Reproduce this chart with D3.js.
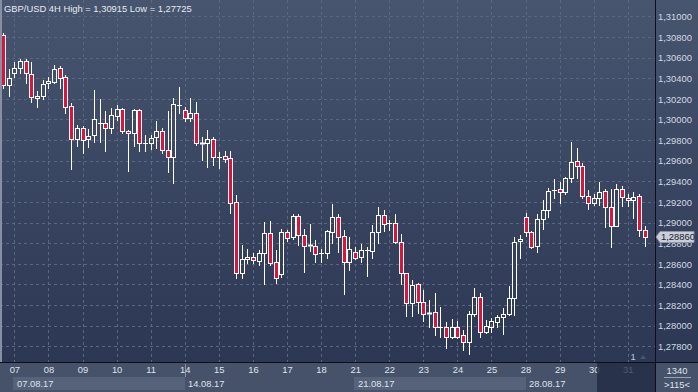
<!DOCTYPE html>
<html>
<head>
<meta charset="utf-8">
<script src="https://cdnjs.cloudflare.com/ajax/libs/d3/7.8.5/d3.min.js"></script>
<style>
  html, body { margin: 0; padding: 0; background: #2b3754; }
  svg { display: block; }
  text { font-family: "Liberation Sans", Arial, sans-serif; }
</style>
</head>
<body>
<div id="chart"></div>
<script>
var opens = [1.30819,1.30334,1.30447,1.30496,1.30567,1.30440,1.30205,1.30227,1.30350,1.30366,
  1.30496,1.30414,1.30130,1.29807,1.29914,1.29807,1.29849,1.29962,1.29962,1.29914,
  1.30033,1.30098,1.29891,1.29865,1.30091,1.29768,1.29768,1.29827,1.29888,1.29704,
  1.29639,1.30137,1.30091,1.30011,1.30059,1.29768,1.29768,1.29807,1.29633,1.29645,
  1.29623,1.29196,1.28508,1.28644,1.28669,1.28630,1.28708,1.28896,1.28615,1.28498,
  1.28905,1.28857,1.29064,1.28879,1.28776,1.28773,1.28702,1.28708,1.28911,1.29057,
  1.28870,1.28620,1.28712,1.28669,1.28734,1.28727,1.28911,1.29073,1.28993,1.28993,
  1.28814,1.28508,1.28217,1.28401,1.28233,1.28120,1.28136,1.27984,1.27984,1.27887,
  1.27984,1.27910,1.27845,1.28110,1.28275,1.27942,1.27990,1.28038,1.28081,1.28110,
  1.28265,1.28821,1.29051,1.28911,1.28776,1.29032,1.29122,1.29316,1.29322,1.29299,
  1.29429,1.29597,1.29548,1.29260,1.29187,1.29241,1.29306,1.29148,1.28969,1.29322,
  1.29241,1.29219,1.29257,1.28928]
var highs = [1.30838,1.30489,1.30560,1.30583,1.30583,1.30560,1.30276,1.30382,1.30414,1.30528,
  1.30518,1.30431,1.30156,1.29946,1.29936,1.29904,1.30285,1.30195,1.30085,1.30108,
  1.30140,1.30108,1.29897,1.30098,1.30098,1.29849,1.29849,1.29988,1.29914,1.30085,
  1.30205,1.30312,1.30121,1.30205,1.30166,1.29827,1.29897,1.29832,1.29687,1.29694,
  1.29694,1.29267,1.28782,1.28741,1.28702,1.28734,1.29002,1.29015,1.28734,1.28935,
  1.28928,1.29083,1.29083,1.28935,1.28986,1.28831,1.28744,1.28928,1.29180,1.29083,
  1.28928,1.28863,1.28760,1.28789,1.28760,1.28976,1.29148,1.29122,1.29025,1.29083,
  1.28889,1.28510,1.28443,1.28411,1.28346,1.28249,1.28314,1.28178,1.28033,1.28062,
  1.28048,1.27958,1.28145,1.28362,1.28314,1.28055,1.28077,1.28103,1.28168,1.28385,
  1.28857,1.28876,1.29090,1.28918,1.29083,1.29219,1.29338,1.29419,1.29396,1.29445,
  1.29778,1.29720,1.29577,1.29316,1.29274,1.29390,1.29325,1.29322,1.29374,1.29354,
  1.29274,1.29293,1.29277,1.28966]
var lows = [1.30305,1.30227,1.30409,1.30447,1.30350,1.30172,1.30123,1.30198,1.30302,1.30350,
  1.30302,1.30065,1.29516,1.29742,1.29677,1.29736,1.29784,1.29784,1.29697,1.29865,
  1.29994,1.29865,1.29503,1.29742,1.29697,1.29697,1.29710,1.29720,1.29672,1.29493,
  1.29381,1.30059,1.29988,1.29988,1.29752,1.29607,1.29542,1.29558,1.29526,1.29590,
  1.29090,1.28459,1.28459,1.28605,1.28605,1.28588,1.28404,1.28588,1.28417,1.28475,
  1.28824,1.28840,1.28782,1.28523,1.28727,1.28620,1.28620,1.28653,1.28799,1.28717,
  1.28304,1.28540,1.28644,1.28620,1.28482,1.28653,1.28799,1.28921,1.28928,1.28805,
  1.28404,1.28094,1.28094,1.28126,1.28048,1.27990,1.27910,1.27893,1.27781,1.27878,
  1.27878,1.27764,1.27725,1.28094,1.27893,1.27926,1.27942,1.27990,1.27919,1.28108,
  1.28108,1.28659,1.28870,1.28756,1.28717,1.28935,1.29057,1.29241,1.29193,1.29277,
  1.29396,1.29429,1.29241,1.29131,1.29170,1.29170,1.28954,1.28766,1.28967,1.29160,
  1.29164,1.29047,1.28870,1.28773]
var closes = [1.30334,1.30399,1.30496,1.30567,1.30447,1.30215,1.30227,1.30344,1.30373,1.30486,
  1.30399,1.30123,1.29807,1.29914,1.29801,1.29839,1.30001,1.29965,1.29914,1.30043,
  1.30098,1.29891,1.29865,1.30091,1.29768,1.29770,1.29817,1.29888,1.29704,1.29639,
  1.30147,1.30140,1.30011,1.30059,1.29768,1.29766,1.29807,1.29633,1.29635,1.29619,
  1.29193,1.28508,1.28644,1.28669,1.28637,1.28708,1.28896,1.28611,1.28459,1.28905,
  1.28847,1.29064,1.28879,1.28776,1.28778,1.28692,1.28704,1.28918,1.29057,1.28863,
  1.28620,1.28741,1.28659,1.28734,1.28736,1.28911,1.29073,1.28986,1.28991,1.28814,
  1.28508,1.28217,1.28394,1.28233,1.28110,1.28118,1.27984,1.27986,1.27887,1.27984,
  1.27887,1.27845,1.28110,1.28275,1.27942,1.27997,1.28045,1.28081,1.28110,1.28265,
  1.28808,1.28838,1.28911,1.28766,1.29032,1.29122,1.29309,1.29318,1.29299,1.29429,
  1.29584,1.29548,1.29260,1.29187,1.29241,1.29293,1.29148,1.28969,1.29322,1.29251,
  1.29219,1.29251,1.28928,1.28860]

var days = ["07","08","09","10","11","14","15","16","17","18","21","22","23","24","25","28","29","30","31"]
var weeks = ["07.08.17","14.08.17","21.08.17","28.08.17"]
var yTicks = [1.278,1.280,1.282,1.284,1.286,1.288,1.290,1.292,1.294,1.296,1.298,1.300,1.302,1.304,1.306,1.308,1.310]
var title = "GBP/USD 4H High = 1,30915 Low = 1,27725"
var lastPrice = 1.28860
var barsPerDay = 6, firstDayBar = 2

var W = 698, H = 392, plotW = 655, plotH = 362
var fmt = v => d3.format(".5f")(v).replace(".", ",")

var svg = d3.select("#chart").append("svg").attr("width", W).attr("height", H)
var defs = svg.append("defs")
var grad = defs.append("linearGradient").attr("id", "bg")
    .attr("gradientUnits", "userSpaceOnUse").attr("x1", 0).attr("y1", 0).attr("x2", 0).attr("y2", plotH)
grad.append("stop").attr("offset", 0).attr("stop-color", "#48556f")
grad.append("stop").attr("offset", 1).attr("stop-color", "#2b3753")
defs.append("clipPath").attr("id", "plotclip").append("rect")
    .attr("x", 2).attr("y", 0).attr("width", plotW - 2).attr("height", plotH)

svg.append("rect").attr("width", W).attr("height", plotH).attr("fill", "url(#bg)")
svg.append("rect").attr("y", plotH).attr("width", W).attr("height", H - plotH).attr("fill", "#46516a")
svg.append("rect").attr("width", 2).attr("height", plotH).attr("fill", "#8790a3")

var x = d3.scaleLinear().domain([0, opens.length - 1]).range([3, 3 + (opens.length - 1) * 5.68])
var y = d3.scaleLinear().domain([1.278, 1.310]).range([346.3, 16.3])
var px = i => Math.round(x(i))
var py = v => Math.round(y(v))
var dayBars = days.map((d, k) => firstDayBar + k * barsPerDay)

// grid
var grid = svg.append("g").attr("clip-path", "url(#plotclip)")
    .attr("stroke", "#5b6780").attr("stroke-dasharray", "3,3").attr("stroke-width", 1)
grid.selectAll("line.h").data(yTicks).join("line").attr("class", "h")
    .attr("x1", 0).attr("x2", plotW).attr("y1", d => py(d) + 0.5).attr("y2", d => py(d) + 0.5)
grid.selectAll("line.v").data(dayBars).join("line").attr("class", "v")
    .attr("x1", d => px(d) + 0.5).attr("x2", d => px(d) + 0.5).attr("y1", 0).attr("y2", plotH)

// candles
var idx = d3.range(opens.length)
var cg = svg.append("g").attr("clip-path", "url(#plotclip)")
var candle = cg.selectAll("g").data(idx).join("g")
candle.each(function (i) {
  var g = d3.select(this)
  var cx = px(i) + 0.5
  var top = Math.min(py(opens[i]), py(closes[i]))
  var bot = Math.max(py(opens[i]), py(closes[i]))
  var bull = closes[i] >= opens[i]
  g.append("line").attr("x1", cx).attr("x2", cx).attr("y1", py(highs[i])).attr("y2", top + 0.5)
      .attr("stroke", "#fff")
  g.append("line").attr("x1", cx).attr("x2", cx).attr("y1", bot + 0.5).attr("y2", py(lows[i]) + 1)
      .attr("stroke", "#fff")
  if (bot - top < 2) {
    g.append("line").attr("x1", cx - 2.5).attr("x2", cx + 2.5).attr("y1", top + 0.5).attr("y2", top + 0.5)
        .attr("stroke", "#fff").attr("stroke-width", bot - top < 1 ? 1 : 2)
  } else {
    g.append("rect").attr("x", cx - 2).attr("y", top + 0.5).attr("width", 4).attr("height", bot - top)
        .attr("fill", bull ? "none" : "#dc143c").attr("stroke", "#fff")
  }
})

// title
svg.append("text").attr("x", 4).attr("y", 12).attr("fill", "#e6eaf0")
    .style("font-size", "9.4px").text(title)

// frame lines
svg.append("line").attr("x1", 0).attr("x2", W).attr("y1", plotH + 0.5).attr("y2", plotH + 0.5).attr("stroke", "#0d1018")
svg.append("line").attr("x1", plotW + 0.5).attr("x2", plotW + 0.5).attr("y1", 0).attr("y2", H).attr("stroke", "#0d1018")

// right price axis
var axisY = svg.append("g").attr("transform", "translate(" + (plotW + 1) + ",0)")
    .call(d3.axisRight(y).tickValues(yTicks).tickFormat(fmt).tickSize(0).tickPadding(2))
axisY.select(".domain").remove()
axisY.selectAll("text").attr("fill", "#d3d8e2").style("font-size", "9.4px")
    .style("font-family", "'Liberation Sans', Arial, sans-serif").attr("dy", "0.34em")

// last price tag
var ly = y(lastPrice)
svg.append("path")
    .attr("d", "M" + (plotW + 1) + "," + ly + "L" + (plotW + 5) + "," + (ly - 5.5) + "H694V" + (ly + 5.5) + "H" + (plotW + 5) + "Z")
    .attr("fill", "#c9ced8").attr("stroke", "#8e96a6")
svg.append("text").attr("x", plotW + 6).attr("y", ly).attr("dy", "0.35em").attr("fill", "#1a2030")
    .style("font-size", "9.4px").text(fmt(lastPrice))

// bottom time axis
var wk = svg.append("g")
wk.selectAll("rect").data([0, 2]).join("rect")
    .attr("x", d => px(dayBars[d * 5]) - 1).attr("y", 377)
    .attr("width", d => px(dayBars[(d + 1) * 5]) - px(dayBars[d * 5]) + 1).attr("height", 13)
    .attr("fill", "#56617a")
wk.append("line").attr("x1", px(dayBars[5]) + 0.5).attr("x2", px(dayBars[5]) + 0.5)
    .attr("y1", 364).attr("y2", 377).attr("stroke", "#8a93a6")

var axisX = svg.append("g").attr("transform", "translate(0," + (plotH + 1) + ")")
    .call(d3.axisBottom(x).tickValues(dayBars).tickFormat((d, k) => days[k]).tickSize(0).tickPadding(3))
axisX.select(".domain").remove()
axisX.selectAll("text").attr("fill", "#dfe3ea").style("font-size", "9.4px")
    .style("font-family", "'Liberation Sans', Arial, sans-serif")

wk.selectAll("text").data(weeks).join("text")
    .attr("x", (d, k) => px(dayBars[k * 5]) + 3).attr("y", 387)
    .attr("fill", "#dfe3ea").style("font-size", "9.4px").text(d => d)

// scroll overlay, bar counter
svg.append("rect").attr("x", 597).attr("y", plotH + 1).attr("width", plotW - 597).attr("height", H - plotH - 1)
    .attr("fill", "#1f2a42").attr("opacity", 0.75)
svg.append("text").attr("x", 633).attr("y", 360).attr("text-anchor", "middle").attr("fill", "#b8c8e0")
    .style("font-size", "9.4px").text("1")
svg.append("path").attr("d", "M640,359L643,355L646,359Z").attr("fill", "#4a5670")

svg.append("text").attr("x", 677).attr("y", 374).attr("text-anchor", "middle").attr("fill", "#dfe3ea")
    .style("font-size", "9.4px").text("1340")
svg.append("line").attr("x1", 664).attr("x2", 691).attr("y1", 377.5).attr("y2", 377.5).attr("stroke", "#9aa3b4")
svg.append("text").attr("x", 677).attr("y", 388).attr("text-anchor", "middle").attr("fill", "#dfe3ea")
    .style("font-size", "9.4px").text(">115<")
</script>
</body>
</html>
